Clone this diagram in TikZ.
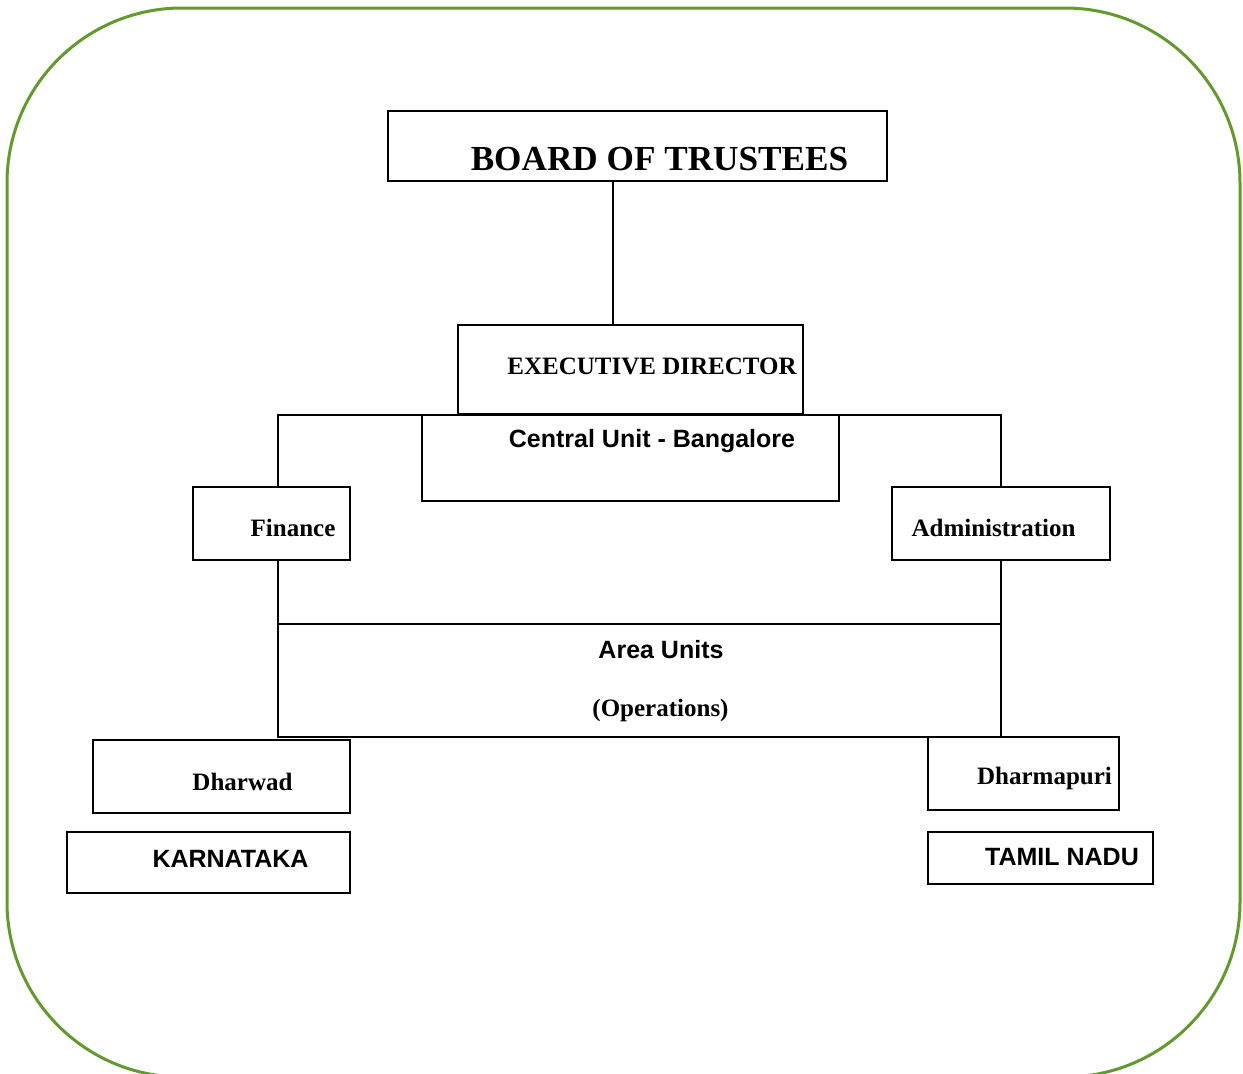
\documentclass[tikz,border=0pt]{standalone}
\usepackage{fontspec}
\setmainfont{Liberation Serif}
\setsansfont{Liberation Sans}
\usepackage{tikz}
\usetikzlibrary{calc,positioning}
\definecolor{framegreen}{RGB}{98,154,46}
\tikzset{
	unit/.style={draw, line width=1pt, inner sep=0pt, outer sep=0pt},
	link/.style={draw, line width=.75pt},
	serif/.style={font=\fontsize{12.5}{15}\selectfont\bfseries, inner sep=0pt},
	sans/.style={font=\sffamily\fontsize{12.5}{15}\selectfont\bfseries, inner sep=0pt},
	title/.style={font=\fontsize{17.6}{21}\selectfont\bfseries, inner sep=0pt},
}

\begin{document}
\begin{tikzpicture}[x=0.5pt, y=-0.5pt]
		\useasboundingbox (0,0) rectangle (1243,1073);
		\draw[framegreen, line width=1.5pt, rounded corners=87.5pt] (7,8) rectangle (1240,1077);
		\node[unit, minimum width=249.5pt, minimum height=35pt, label={[title, xshift=11pt, yshift=-6.5pt]center:BOARD OF TRUSTEES}] at (637.5,146) (board) {};
		\node[unit, minimum width=172.5pt, minimum height=44.5pt, label={[serif, xshift=10.75pt, yshift=1.5pt]center:EXECUTIVE DIRECTOR}] at (630.5,369.5) (exec) {};
		\node[unit, minimum width=208.5pt, minimum height=43pt, label={[sans, xshift=10.75pt, yshift=8.5pt]center:Central Unit - Bangalore}] at (630.5,458) (central) {};
		\node[unit, minimum width=78.5pt, minimum height=36.5pt, label={[serif, xshift=10.75pt, yshift=-2pt]center:Finance}] at (271.5,523.5) (fin) {};
		\node[unit, minimum width=109pt, minimum height=36.5pt, label={[serif, xshift=-3.75pt, yshift=-2pt]center:Administration}] at (1001,523.5) (admin) {};
		\node[unit, minimum width=361.5pt, minimum height=56.5pt, label={[sans, xshift=10.75pt, yshift=15.25pt]center:Area Units}, label={[serif, xshift=10.5pt, yshift=-14.75pt]center:(Operations)}] at (639.5,680.5) (area) {};
		\node[unit, minimum width=128.5pt, minimum height=36.5pt, label={[serif, xshift=10.5pt, yshift=-2.75pt]center:Dharwad}] at (221.5,776.5) (dharwad) {};
		\node[unit, minimum width=141.5pt, minimum height=30.5pt, label={[sans, xshift=11pt, yshift=1.75pt]center:KARNATAKA}] at (208.5,862.5) (karnataka) {};
		\node[unit, minimum width=95.5pt, minimum height=36.5pt, label={[serif, xshift=10.5pt, yshift=-2.25pt]center:Dharmapuri}] at (1023.5,773.5) (dharmapuri) {};
		\node[unit, minimum width=112.5pt, minimum height=26pt, label={[sans, xshift=10.75pt, yshift=.25pt]center:TAMIL NADU}] at (1040.5,858) (tamil) {};
		\coordinate (spine) at (613,0);
		\draw[link] (board.south -| spine) -- (exec.north -| spine);
		\draw[link] (fin.north -| area.west) |- (central.north) -- (central.north -| admin.north) -- (admin.north);
		\draw[link] (fin.south -| area.west) -- (area.north west);
		\draw[link] (admin.south) -- (area.north east);
\end{tikzpicture}
\end{document}
